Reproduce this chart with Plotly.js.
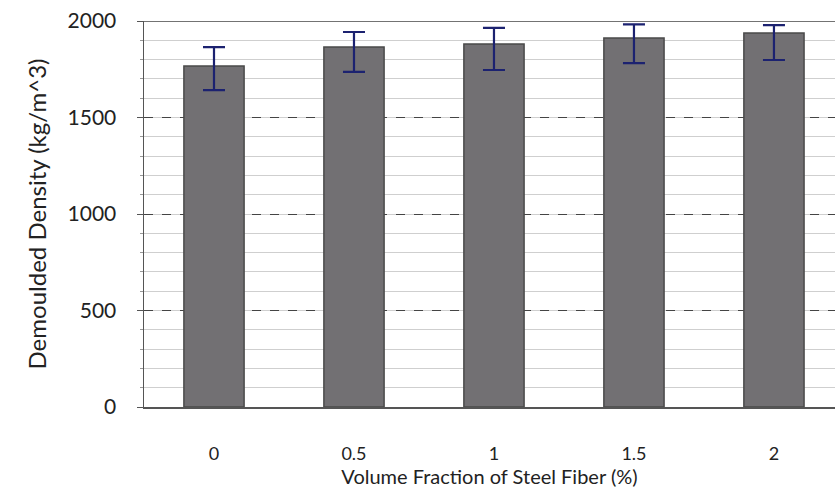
<!DOCTYPE html>
<html>
<head>
<meta charset="utf-8">
<script src="https://cdn.plot.ly/plotly-3.0.1.min.js"></script>
<style>html,body{margin:0;padding:0;background:#fff;}#chart{width:835px;height:493px;}</style>
</head>
<body>
<div id="chart"></div>
<script>
const categories = ['0', '0.5', '1', '1.5', '2'];
const density = [1767, 1865, 1881, 1912, 1938];
const errPlus = [98, 78, 83, 70, 41];
const errMinus = [125, 129, 135, 130, 140];
const yTicks = [0, 500, 1000, 1500, 2000];

const FONT = 'Lato, "Open Sans", sans-serif';

const trace = {
  type: 'bar',
  x: categories,
  y: density,
  width: 0.43,
  marker: {color: '#727073', line: {color: '#4a4a4a', width: 1.5}},
  error_y: {type: 'data', symmetric: false, array: errPlus, arrayminus: errMinus,
            color: '#1c2270', thickness: 2.2, width: 11},
  hoverinfo: 'x+y'
};

const layout = {
  width: 835, height: 493,
  margin: {l: 144, r: 0, t: 21, b: 86},
  paper_bgcolor: '#fff', plot_bgcolor: '#fff',
  showlegend: false,
  font: {family: FONT, color: '#222', size: 18},
  xaxis: {
    type: 'category',
    range: [-0.5, 4.436],
    showgrid: false,
    zeroline: false,
    showline: true, linecolor: '#555', linewidth: 1.5,
    ticks: '', ticklabelstandoff: 30,
    tickfont: {family: FONT, size: 18, color: '#222'},
    title: {text: 'Volume Fraction of Steel Fiber (%)', font: {family: FONT, size: 20, color: '#222'}, standoff: 0}
  },
  yaxis: {
    range: [0, 2000],
    tickvals: yTicks,
    ticktext: yTicks.map(String),
    showgrid: true, gridcolor: '#444', griddash: 'dash', gridwidth: 1,
    zeroline: false,
    showline: true, linecolor: '#555', linewidth: 1.5,
    ticks: 'outside', ticklen: 6, tickcolor: '#555',
    tickfont: {family: FONT, size: 21, color: '#222'},
    ticklabelstandoff: 16,
    minor: {dtick: 100, showgrid: true, gridcolor: '#cfcfcf', griddash: 'solid', gridwidth: 1, ticks: 'outside', ticklen: 3, tickcolor: '#999'},
    title: {text: 'Demoulded Density (kg/m^3)', font: {family: FONT, size: 24, color: '#222'}, standoff: 14}
  },
  shapes: [
    {type: 'line', xref: 'paper', yref: 'y', x0: 0, x1: 1, y0: 2000, y1: 2000, line: {color: '#444', width: 1.5}, layer: 'below'}
  ]
};

Plotly.newPlot('chart', [trace], layout, {displayModeBar: false, staticPlot: true});
</script>
</body>
</html>
